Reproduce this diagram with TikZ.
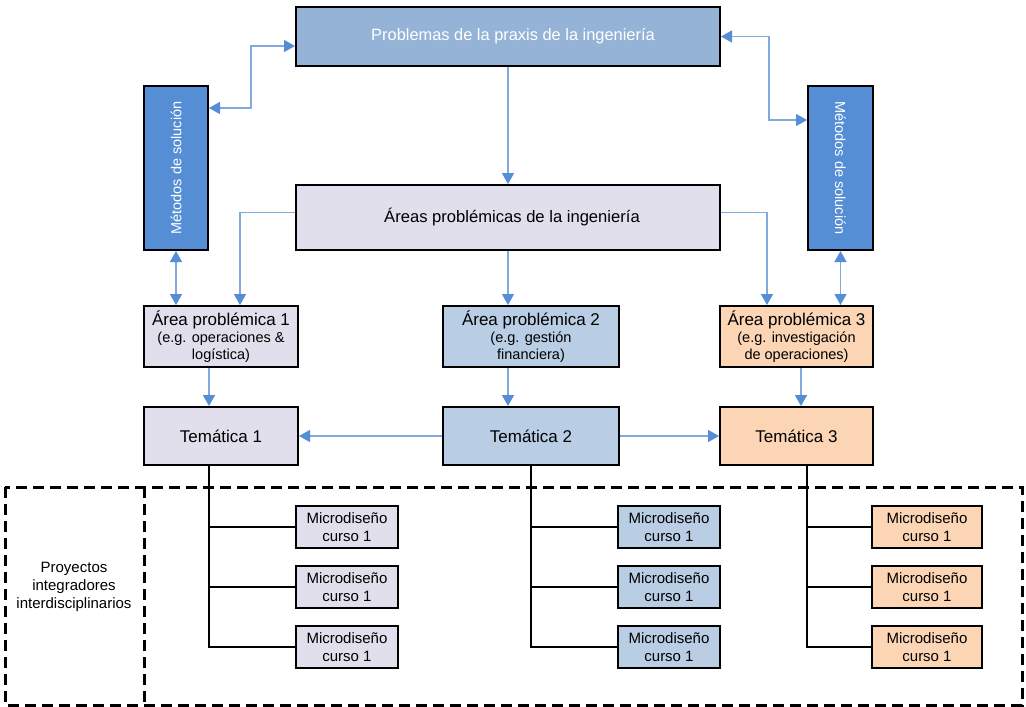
\documentclass[tikz,border=0pt]{standalone}
\usepackage{fontspec}
\setmainfont{Liberation Sans}
\usepackage{xcolor}
\usetikzlibrary{arrows.meta}

\definecolor{topblue}{HTML}{95B3D7}
\definecolor{darkblue}{HTML}{558ED5}
\definecolor{lavender}{HTML}{E1DFEC}
\definecolor{paleblue}{HTML}{B9CDE5}
\definecolor{peach}{HTML}{FCD5B5}
\definecolor{linkblue}{HTML}{7FA9DF}

\tikzset{
  box/.style={draw=black, line width=2pt, inner sep=2pt, align=center},
  flow/.style={draw=linkblue, line width=1.5pt, -{Triangle[width=12pt,length=11pt,color=darkblue]}},
  twoway/.style={flow, {Triangle[width=12pt,length=11pt,color=darkblue]}-{Triangle[width=12pt,length=11pt,color=darkblue]}},
  link/.style={draw=black, line width=2pt},
  micro/.style={box, minimum height=42pt, font=\fontsize{15}{18}\selectfont},
  frame/.style={line width=3pt, dash pattern=on 11pt off 6pt},
}

\begin{document}
\begin{tikzpicture}[x=1pt, y=-1pt]
        \useasboundingbox (0,0) rectangle (1026,707);

        % top level
        \node[box, fill=topblue, text=white, minimum width=424pt, minimum height=59pt, font=\fontsize{16.4}{19}\selectfont] (probl) at (508, 36.5) {\hspace{10pt}Problemas de la praxis de la ingeniería};
        \node[box, fill=darkblue, text=white, minimum width=64pt, minimum height=164pt] (metL) at (176, 168) {};
        \node[rotate=90, text=white, font=\fontsize{14.5}{17}\selectfont] at (metL) {Métodos de solución};
        \node[box, fill=darkblue, text=white, minimum width=65pt, minimum height=164pt] (metR) at (840.5, 168) {};
        \node[rotate=-90, text=white, font=\fontsize{14.5}{17}\selectfont] at (metR) {Métodos de solución};
        \node[box, fill=lavender, minimum width=424pt, minimum height=65pt, font=\fontsize{16.6}{19}\selectfont] (areas) at (508, 217.5) {\hspace{8pt}Áreas problémicas de la ingeniería};

        % areas
        \node[box, fill=lavender, minimum width=154pt, minimum height=61pt, font=\fontsize{14.5}{17}\selectfont] (a1) at (221, 336.5) {{\fontsize{17}{19}\selectfont Área problémica 1}\\(e.g. operaciones \&\\logística)};
        \node[box, fill=paleblue, minimum width=176pt, minimum height=61pt, font=\fontsize{14.5}{17}\selectfont] (a2) at (531, 336.5) {{\fontsize{17}{19}\selectfont Área problémica 2}\\(e.g. gestión\\financiera)};
        \node[box, fill=peach, minimum width=153pt, minimum height=61pt, font=\fontsize{14.5}{17}\selectfont] (a3) at (796.5, 336.5) {{\fontsize{17}{19}\selectfont Área problémica 3}\\(e.g. investigación\\de operaciones)};

        % tematicas
        \node[box, fill=lavender, minimum width=154pt, minimum height=58pt, font=\fontsize{17}{20}\selectfont] (t1) at (221, 436) {Temática 1};
        \node[box, fill=paleblue, minimum width=176pt, minimum height=58pt, font=\fontsize{17}{20}\selectfont] (t2) at (531, 436) {Temática 2};
        \node[box, fill=peach, minimum width=153pt, minimum height=58pt, font=\fontsize{17}{20}\selectfont] (t3) at (796.5, 436) {Temática 3};

        % microdisenos
        \foreach \r/\y in {1/527, 2/587, 3/647} {
          \node[micro, fill=lavender, minimum width=102pt] (m1\r) at (347, \y) {Microdiseño\\curso 1};
          \node[micro, fill=paleblue, minimum width=102pt] (m2\r) at (669, \y) {Microdiseño\\curso 1};
          \node[micro, fill=peach, minimum width=110pt] (m3\r) at (927, \y) {Microdiseño\\curso 1};
        }

        % proyectos frame
        \draw[frame] (5, 487) rectangle (1022, 705);
        \draw[frame] (144, 487) -- (144, 705);
        \node[align=center, font=\fontsize{15}{18}\selectfont] (proy) at (74, 587) {Proyectos\\integradores\\interdisciplinarios};

        % trunks
        \draw[link] (t1.south -| metL.east) |- (m13.west);
        \draw[link] (t2.south) |- (m23.west);
        \draw[link] (t3.south -| metR.west) |- (m33.west);
        \foreach \r in {1, 2} {
          \draw[link] (m1\r.west) -- (m1\r.west -| metL.east);
          \draw[link] (m2\r.west) -- (m2\r.west -| t2.south);
          \draw[link] (m3\r.west) -- (m3\r.west -| metR.west);
        }

        % arrows
        \draw[flow] (probl.south) -- (areas.north);
        \draw[twoway] ([yshift=60pt]metL.east) -- ++(42,0) |- ([yshift=-9.5pt]probl.west);
        \draw[twoway] (probl.east) -- ++(48,0) |- ([yshift=48pt]metR.west);
        \draw[flow] ([yshift=5pt]areas.west) -| ([xshift=19pt]a1.north);
        \draw[flow] (areas.south -| probl.south) -- (a2.north -| probl.south);
        \draw[flow] ([yshift=5pt]areas.east) -| ([xshift=-29.5pt]a3.north);
        \draw[twoway] (metL.south) -- (metL.south |- a1.north);
        \draw[twoway] (metR.south) -- (metR.south |- a3.north);
        \draw[flow] (a1.south -| metL.east) -- (t1.north -| metL.east);
        \draw[flow] (a2.south -| probl.south) -- (t2.north -| probl.south);
        \draw[flow] ([xshift=4.5pt]a3.south) -- ([xshift=4.5pt]t3.north);
        \draw[flow] (t2.west) -- (t1.east);
        \draw[flow] (t2.east) -- (t3.west);
\end{tikzpicture}
\end{document}
